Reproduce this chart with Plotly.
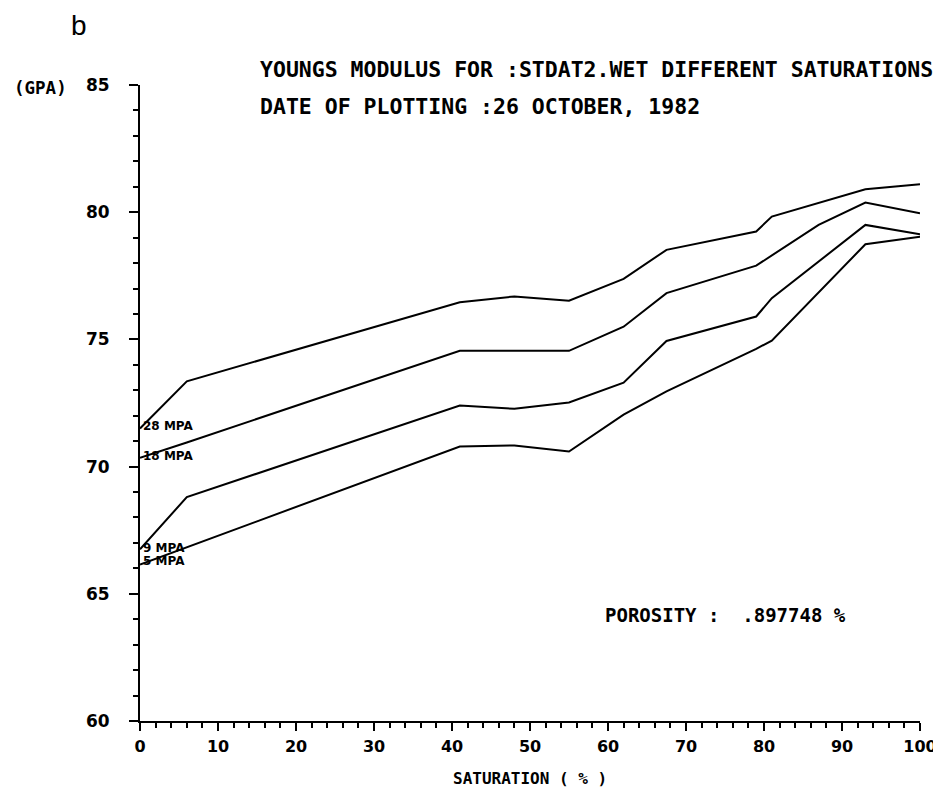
import plotly.graph_objects as go

# ---- data ----
x_28 = [0, 6, 41, 48, 55, 62, 67.5, 79, 81, 93, 100]
y_28 = [71.5, 73.35, 76.46, 76.69, 76.52, 77.38, 78.52, 79.24, 79.83, 80.9, 81.1]

x_18 = [0, 6, 41, 55, 62, 67.5, 79, 81, 87, 93, 100]
y_18 = [70.35, 70.95, 74.55, 74.55, 75.5, 76.82, 77.9, 78.3, 79.5, 80.38, 79.96]

x_9 = [0, 6, 41, 48, 55, 62, 67.5, 79, 81, 93, 100]
y_9 = [66.75, 68.8, 72.4, 72.27, 72.52, 73.3, 74.94, 75.9, 76.62, 79.5, 79.13]

x_5 = [0, 41, 48, 55, 62, 67.5, 79, 81, 93, 100]
y_5 = [66.15, 70.79, 70.83, 70.59, 72.04, 72.96, 74.63, 74.95, 78.74, 79.04]

curve_labels = ["28 MPA", "18 MPA", "9 MPA", "5 MPA"]
label_y = [71.6, 70.42, 66.8, 66.3]

x_ticks = [0, 10, 20, 30, 40, 50, 60, 70, 80, 90, 100]
y_ticks = [60, 65, 70, 75, 80, 85]

title_line1 = "YOUNGS MODULUS FOR :STDAT2.WET DIFFERENT SATURATIONS"
title_line2 = "DATE OF PLOTTING :26 OCTOBER, 1982"
porosity_text = "POROSITY :  .897748 %"
x_title = "SATURATION ( % )"
y_unit = "(GPA)"
panel_letter = "b"

# ---- figure ----
W, H = 941, 794
L, R, T, B = 132, 18, 77, 81
PW, PH = W - L - R, H - T - B

def px(xp):
    return (xp - L) / PW

def py(yp):
    return (H - B - yp) / PH

FONT = "DejaVu Sans"
MONO = "DejaVu Sans Mono"
fig = go.Figure()
for xs, ys in [(x_28, y_28), (x_18, y_18), (x_9, y_9), (x_5, y_5)]:
    fig.add_trace(go.Scatter(x=xs, y=ys, mode="lines",
                             line=dict(color="black", width=2),
                             showlegend=False, hoverinfo="skip"))

ann = []
for lab, ly in zip(curve_labels, label_y):
    ann.append(dict(x=0.15, y=ly, xref="x", yref="y", text=lab, showarrow=False,
                    xanchor="left", yanchor="middle",
                    font=dict(family=FONT, size=12, color="black", weight="bold")))

ann.append(dict(x=px(252), y=py(62), xref="paper", yref="paper", text=title_line1,
                showarrow=False, xanchor="left", yanchor="middle",
                font=dict(family=MONO, size=21.5, color="black", weight="bold")))
ann.append(dict(x=px(252), y=py(98), xref="paper", yref="paper", text=title_line2,
                showarrow=False, xanchor="left", yanchor="middle",
                font=dict(family=MONO, size=21.5, color="black", weight="bold")))
ann.append(dict(x=px(602), y=py(607), xref="paper", yref="paper", text=porosity_text,
                showarrow=False, xanchor="left", yanchor="middle",
                font=dict(family=MONO, size=19, color="black", weight="bold")))
ann.append(dict(x=px(527), y=py(770), xref="paper", yref="paper", text=x_title,
                showarrow=False, xanchor="center", yanchor="middle",
                font=dict(family=MONO, size=16, color="black", weight="bold")))
ann.append(dict(x=px(2), y=py(80), xref="paper", yref="paper", text=y_unit,
                showarrow=False, xanchor="left", yanchor="middle",
                font=dict(family=MONO, size=17.5, color="black", weight="bold")))
ann.append(dict(x=px(70), y=py(18), xref="paper", yref="paper", text=panel_letter,
                showarrow=False, xanchor="center", yanchor="middle",
                font=dict(family="Liberation Sans", size=28, color="black")))

fig.update_layout(
    width=W, height=H,
    margin=dict(l=L, r=R, t=T, b=B),
    paper_bgcolor="white", plot_bgcolor="white",
    annotations=ann,
    xaxis=dict(range=[0, 100], tickvals=x_ticks, ticktext=[str(v) for v in x_ticks],
               showgrid=False, zeroline=False, showline=True, linecolor="black",
               linewidth=2, ticks="outside", ticklen=8, tickwidth=2, tickcolor="black",
               ticklabelstandoff=2,
               tickfont=dict(family=FONT, size=16, color="black", weight="bold"),
               minor=dict(dtick=2, ticks="outside", ticklen=5, tickwidth=1.5,
                          tickcolor="black", showgrid=False)),
    yaxis=dict(range=[60, 85], tickvals=y_ticks, ticktext=[str(v) for v in y_ticks],
               showgrid=False, zeroline=False, showline=True, linecolor="black",
               linewidth=2, ticks="outside", ticklen=9, tickwidth=2, tickcolor="black",
               ticklabelstandoff=16,
               tickfont=dict(family=FONT, size=17, color="black", weight="bold"),
               minor=dict(dtick=1, ticks="outside", ticklen=5, tickwidth=1.5,
                          tickcolor="black", showgrid=False)),
)

fig.write_html("out.html")
